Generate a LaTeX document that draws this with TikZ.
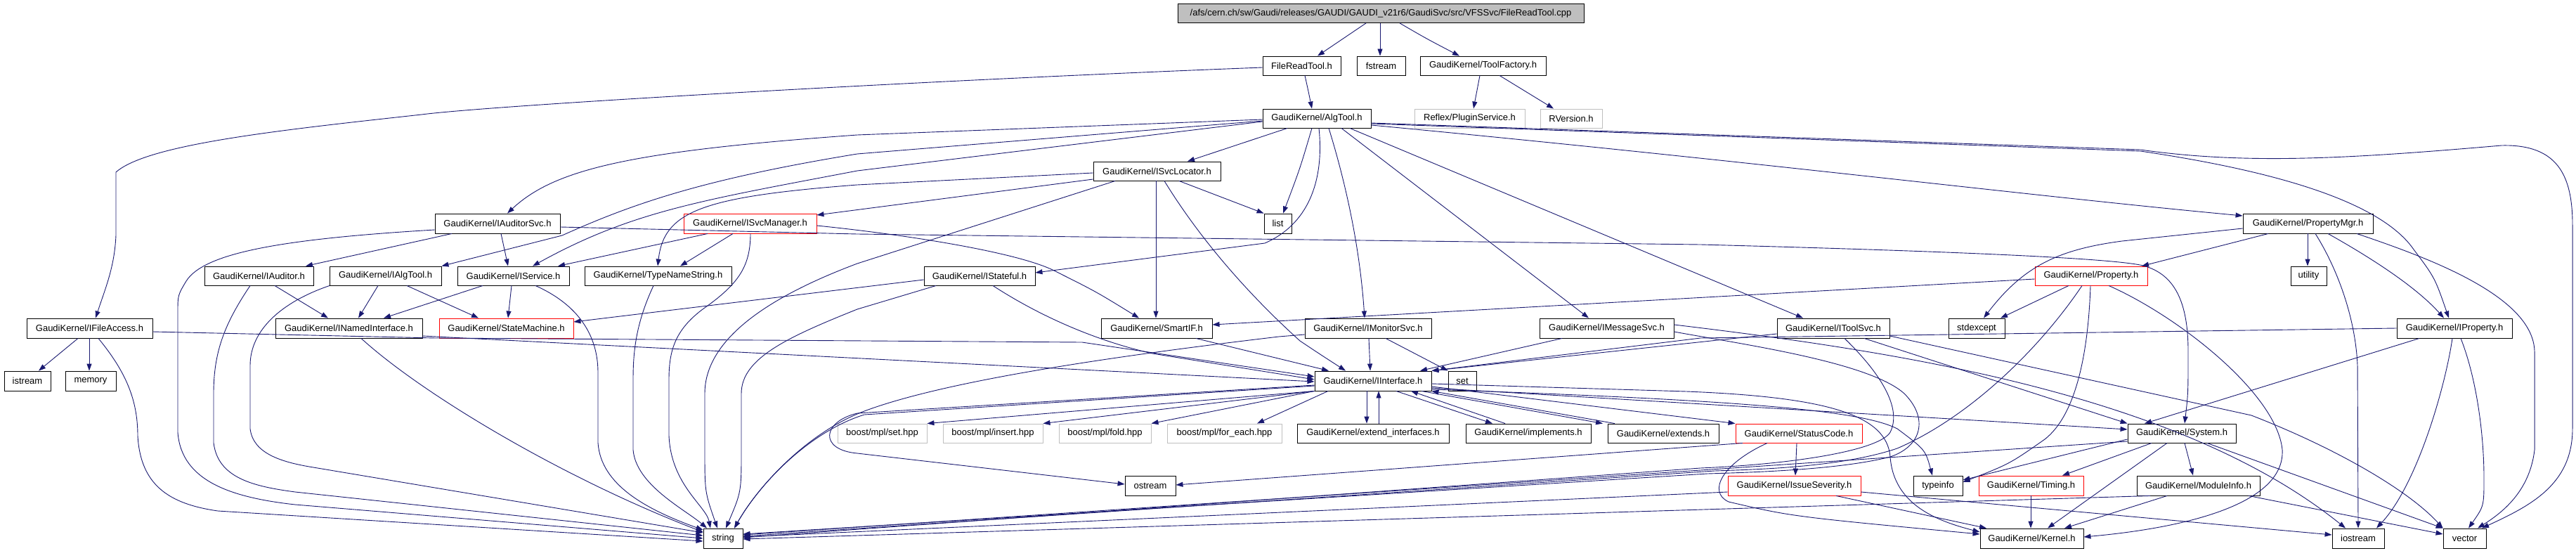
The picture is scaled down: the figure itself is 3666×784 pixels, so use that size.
\documentclass[tikz,border=0pt]{standalone}
\usepackage{fontspec}
\setmainfont{Liberation Sans}
\usetikzlibrary{arrows.meta}
\definecolor{edgec}{HTML}{191970}
\definecolor{grayfill}{HTML}{BFBFBF}
\definecolor{grayb}{HTML}{BFBFBF}
\begin{document}
\begin{tikzpicture}[x=1pt,y=-1pt,
  nd/.style={draw=black, line width=0.9pt, inner sep=0pt, minimum height=27pt, font=\fontsize{13}{15}\selectfont},
  rnd/.style={nd, draw=red},
  gnd/.style={nd, draw=grayb},
  e/.style={draw=edgec, line width=0.9pt, -{Triangle[length=10pt,width=7pt]}}]
\useasboundingbox (0,0) rectangle (3666,784);
% row 0
\node[nd, fill=grayfill, minimum width=578pt, minimum height=27pt] (root) at (1965,19) {/afs/cern.ch/sw/Gaudi/releases/GAUDI/GAUDI\_v21r6/GaudiSvc/src/VFSSvc/FileReadTool.cpp};
% row 1
\node[nd, minimum width=111pt] (frt) at (1852.5,93.5) {FileReadTool.h};
\node[nd, minimum width=69pt] (fst) at (1965.5,93.5) {fstream};
\node[nd, minimum width=179pt] (tf) at (2110.5,93.5) {GaudiKernel/ToolFactory.h};
% row 2
\node[nd, minimum width=154pt] (alg) at (1874,168.5) {GaudiKernel/AlgTool.h};
\node[gnd, minimum width=157pt] (ps) at (2091.5,168.5) {Reflex/PluginService.h};
\node[gnd, minimum width=88pt] (rv) at (2236,168.5) {RVersion.h};
% row 3
\node[nd, minimum width=181pt] (svl) at (1646.5,243.5) {GaudiKernel/ISvcLocator.h};
% row 4
\node[nd, minimum width=39pt, minimum height=28pt] (list) at (1818.5,318) {list};
\node[nd, minimum width=178pt, minimum height=28pt] (auds) at (708,318) {GaudiKernel/IAuditorSvc.h};
\node[rnd, minimum width=189pt, minimum height=28pt] (svm) at (1067.5,318) {GaudiKernel/ISvcManager.h};
\node[nd, minimum width=185pt, minimum height=28pt] (pmgr) at (3284.5,318) {GaudiKernel/PropertyMgr.h};
% row 5
\node[nd, minimum width=155pt] (iaud) at (368.5,392.5) {GaudiKernel/IAuditor.h};
\node[nd, minimum width=159pt] (ialg) at (548.5,392.5) {GaudiKernel/IAlgTool.h};
\node[nd, minimum width=159pt] (isvc) at (730.5,392.5) {GaudiKernel/IService.h};
\node[nd, minimum width=209pt] (tns) at (936.5,392.5) {GaudiKernel/TypeNameString.h};
\node[nd, minimum width=158pt] (ista) at (1394,392.5) {GaudiKernel/IStateful.h};
\node[rnd, minimum width=160pt] (prop) at (2976,392.5) {GaudiKernel/Property.h};
\node[nd, minimum width=51pt] (util) at (3285.5,392.5) {utility};
% row 6
\node[nd, minimum width=179pt, minimum height=28pt] (ifa) at (127.5,467) {GaudiKernel/IFileAccess.h};
\node[nd, minimum width=209pt, minimum height=28pt] (inam) at (496.5,467) {GaudiKernel/INamedInterface.h};
\node[rnd, minimum width=191pt, minimum height=28pt] (stm) at (720.5,467) {GaudiKernel/StateMachine.h};
\node[nd, minimum width=158pt, minimum height=28pt] (sif) at (1646,467) {GaudiKernel/SmartIF.h};
\node[nd, minimum width=180pt, minimum height=28pt] (imon) at (1947,467) {GaudiKernel/IMonitorSvc.h};
\node[nd, minimum width=191pt, minimum height=28pt] (imsg) at (2286.5,467) {GaudiKernel/IMessageSvc.h};
\node[nd, minimum width=160pt, minimum height=28pt] (itool) at (2609,467) {GaudiKernel/IToolSvc.h};
\node[nd, minimum width=80pt, minimum height=28pt] (stde) at (2813,467) {stdexcept};
\node[nd, minimum width=164pt, minimum height=28pt] (iprop) at (3493,467) {GaudiKernel/IProperty.h};
% row 7
\node[nd, minimum width=66pt, minimum height=28pt] (ist) at (39,542) {istream};
\node[nd, minimum width=72pt, minimum height=28pt] (mem) at (129,542) {memory};
\node[nd, minimum width=166pt, minimum height=28pt] (iif) at (1954,542) {GaudiKernel/IInterface.h};
\node[nd, minimum width=40pt, minimum height=28pt] (set) at (2081,542) {set};
% row 8
\node[gnd, minimum width=127pt] (bset) at (1255.5,616.5) {boost/mpl/set.hpp};
\node[gnd, minimum width=142pt] (bins) at (1413,616.5) {boost/mpl/insert.hpp};
\node[gnd, minimum width=131pt] (bfold) at (1572.5,616.5) {boost/mpl/fold.hpp};
\node[gnd, minimum width=163pt] (bfe) at (1742.5,616.5) {boost/mpl/for\_each.hpp};
\node[nd, minimum width=216pt] (eif) at (1954,616.5) {GaudiKernel/extend\_interfaces.h};
\node[nd, minimum width=178pt] (impl) at (2175,616.5) {GaudiKernel/implements.h};
\node[nd, minimum width=158pt] (ext) at (2367,616.5) {GaudiKernel/extends.h};
\node[rnd, minimum width=180pt] (stc) at (2560,616.5) {GaudiKernel/StatusCode.h};
\node[nd, minimum width=154pt] (sys) at (3105,616.5) {GaudiKernel/System.h};
% row 9
\node[nd, minimum width=72pt, minimum height=28pt] (ostr) at (1637,691) {ostream};
\node[rnd, minimum width=189pt, minimum height=28pt] (isev) at (2553.5,691) {GaudiKernel/IssueSeverity.h};
\node[nd, minimum width=70pt, minimum height=28pt] (tinf) at (2758,691) {typeinfo};
\node[rnd, minimum width=149pt, minimum height=28pt] (tim) at (2890.5,691) {GaudiKernel/Timing.h};
\node[nd, minimum width=175pt, minimum height=28pt] (modi) at (3128.5,691) {GaudiKernel/ModuleInfo.h};
% row 10
\node[nd, minimum width=56pt, minimum height=28pt] (str) at (1029,766) {string};
\node[nd, minimum width=147pt, minimum height=28pt] (kern) at (2891.5,766) {GaudiKernel/Kernel.h};
\node[nd, minimum width=74pt, minimum height=28pt] (iost) at (3356,766) {iostream};
\node[nd, minimum width=61pt, minimum height=28pt] (vec) at (3507.5,766) {vector};

% ---------------- edges ----------------
\draw[e] (root.south -| 1944,0) -- (frt.north -| 1875,0);
\draw[e] (root.south -| 1964,0) -- (fst.north -| 1964,0);
\draw[e] (root.south -| 1992,0) .. controls (2030,55) .. (tf.north -| 2077,0);
\draw[e] (frt.south -| 1857,0) .. controls (1862,130) .. (alg.north -| 1867,0);
\draw[e] (frt.west |- 0,96) .. controls (1300,115) and (700,150) .. (600,163) .. controls (400,185) and (210,205) .. (165,245) -- (165,335) .. controls (163,380) and (150,410) .. (ifa.north -| 136,0);
\draw[e] (tf.south -| 2106,0) -- (ps.north -| 2097,0);
\draw[e] (tf.south -| 2134,0) -- (rv.north -| 2211,0);
% AlgTool
\draw[e] (alg.south -| 1832,0) -- (svl.north -| 1690,0);
\draw[e] (alg.south -| 1867,0) .. controls (1850,240) .. (list.north -| 1826,0);
\draw[e] (alg.west |- 0,170) -- (1220,192) .. controls (900,215) and (790,240) .. (auds.north -| 722,0);
\draw[e] (alg.west |- 0,172) -- (1220,219) .. controls (1000,255) and (900,290) .. (800,335) -- (ialg.north east);
\draw[e] (alg.west |- 0,173) -- (1220,243) .. controls (1000,285) and (900,300) .. (isvc.north -| 758,0);
\draw[e] (alg.south -| 1877,0) .. controls (1885,260) and (1860,320) .. (1800,346) -- (ista.east |- 0,388);
\draw[e] (alg.south -| 1891,0) .. controls (1915,260) and (1935,350) .. (imon.north -| 1942,0);
\draw[e] (alg.south -| 1909,0) -- (imsg.north -| 2261,0);
\draw[e] (alg.south -| 1921,0) -- (itool.north -| 2566,0);
\draw[e] (alg.east |- 0,178) .. controls (2500,230) and (2900,280) .. (pmgr.west |- 0,307);
\draw[e] (alg.east |- 0,176) -- (3046,215) .. controls (3250,245) and (3390,290) .. (3435,355) .. controls (3465,395) .. (iprop.north -| 3485,0);
\draw[e] (alg.east |- 0,175) -- (3046,213) .. controls (3200,235) and (3350,225) .. (3560,207) .. controls (3640,205) and (3661,250) .. (3661,320) -- (3661,610) .. controls (3661,690) and (3600,720) .. (vec.north -| 3532,0);
% ISvcLocator
\draw[e] (svl.west |- 0,255) -- (svm.east |- 0,306);
\draw[e] (svl.west |- 0,246) -- (1220,263) .. controls (1000,280) and (945,300) .. (tns.north -| 936,0);
\draw[e] (svl.south -| 1678,0) -- (list.north west);
\draw[e] (svl.south -| 1645,0) -- (sif.north -| 1645,0);
\draw[e] (svl.south -| 1657,0) .. controls (1720,360) and (1800,440) .. (1850,485) .. controls (1880,505) .. (iif.north -| 1915,0);
\draw[e] (svl.south -| 1587,0) -- (1220,375) .. controls (1100,420) and (1003,480) .. (1003,560) -- (1003,640) .. controls (1003,700) .. (str.north -| 1021,0);
% IAuditorSvc
\draw[e] (auds.south -| 643,0) -- (iaud.north -| 435,0);
\draw[e] (auds.south -| 713,0) -- (isvc.north -| 723,0);
\draw[e] (auds.west |- 0,327) .. controls (400,340) and (290,360) .. (265,400) .. controls (253,420) .. (253,445) -- (253,615) .. controls (258,685) and (330,708) .. (420,718) -- (str.west |- 0,766);
\draw[e] (auds.east |- 0,323) -- (1220,333) -- (2420,348) .. controls (2800,358) and (3010,368) .. (3050,378) .. controls (3095,390) and (3114,430) .. (3114,500) .. controls (3114,560) .. (sys.north -| 3109,0);
% ISvcManager
\draw[e] (svm.south -| 1007,0) -- (isvc.north -| 794,0);
\draw[e] (svm.south -| 1043,0) -- (tns.north -| 968,0);
\draw[e] (svm.east |- 0,321) .. controls (1300,335) and (1450,360) .. (1500,385) .. controls (1560,415) .. (sif.north -| 1621,0);
\draw[e] (svm.south -| 1068,0) .. controls (1068,380) and (1050,405) .. (1000,440) .. controls (960,470) and (952,500) .. (952,540) -- (952,620) .. controls (955,690) and (1005,720) .. (str.north -| 1011,0);
% IAuditor / IAlgTool / IService
\draw[e] (iaud.south -| 391,0) -- (inam.north -| 467,0);
\draw[e] (iaud.south -| 356,0) .. controls (320,460) and (304,500) .. (304,560) -- (304,630) .. controls (310,680) and (360,692) .. (420,700) -- (str.west |- 0,762);
\draw[e] (ialg.south -| 538,0) -- (inam.north -| 510,0);
\draw[e] (ialg.south -| 579,0) -- (stm.north -| 681,0);
\draw[e] (ialg.south -| 469,0) .. controls (400,430) and (356,470) .. (356,520) -- (356,610) .. controls (360,645) and (400,657) .. (440,664) -- (str.west |- 0,758);
\draw[e] (isvc.south -| 687,0) -- (inam.north -| 546,0);
\draw[e] (isvc.south -| 728,0) -- (stm.north -| 723,0);
\draw[e] (isvc.south -| 762,0) .. controls (815,430) and (851,470) .. (851,530) -- (851,630) .. controls (855,690) and (920,725) .. (str.west |- 0,754);
\draw[e] (tns.south -| 930,0) .. controls (905,460) and (901,500) .. (901,540) -- (901,640) .. controls (905,690) and (975,725) .. (str.north -| 1006,0);
% IStateful
\draw[e] (ista.west |- 0,398) -- (stm.east |- 0,458);
\draw[e] (ista.south -| 1332,0) -- (1220,440) .. controls (1120,480) and (1055,510) .. (1055,560) -- (1055,640) .. controls (1055,700) .. (str.north -| 1033,0);
\draw[e] (ista.south -| 1413,0) .. controls (1480,450) and (1560,485) .. (1640,503) -- (iif.west |- 0,540);
% PropertyMgr
\draw[e] (pmgr.south -| 3228,0) -- (prop.north -| 3048,0);
\draw[e] (pmgr.west |- 0,325) -- (3020,343) .. controls (2930,355) and (2880,378) .. (stde.north -| 2823,0);
\draw[e] (pmgr.south -| 3284,0) -- (util.north -| 3284,0);
\draw[e] (pmgr.south -| 3295,0) .. controls (3325,380) and (3352,450) .. (3355,520) -- (iost.north -| 3356,0);
\draw[e] (pmgr.south -| 3313,0) .. controls (3380,370) and (3440,410) .. (iprop.north -| 3478,0);
\draw[e] (pmgr.south -| 3354,0) .. controls (3450,365) and (3605,420) .. (3607,500) -- (3607,640) .. controls (3600,700) and (3560,730) .. (vec.north -| 3526,0);
% Property
\draw[e] (prop.west |- 0,397) -- (sif.east |- 0,462);
\draw[e] (prop.south -| 2944,0) -- (stde.north -| 2847,0);
\draw[e] (prop.south -| 2975,0) .. controls (2972,500) and (2955,590) .. (2910,625) .. controls (2860,660) .. (tinf.east |- 0,686);
\draw[e] (prop.south -| 3001,0) .. controls (3100,450) and (3240,560) .. (3248,640) .. controls (3252,720) and (3100,752) .. (kern.east |- 0,764);
\draw[e] (prop.south -| 2963,0) .. controls (2900,500) and (2800,595) .. (2700,638) .. controls (2620,665) and (2500,668) .. (2440,670) -- (str.east |- 0,763);
% IFileAccess
\draw[e] (ifa.south -| 111,0) -- (ist.north -| 55,0);
\draw[e] (ifa.south -| 127,0) -- (mem.north -| 127,0);
\draw[e] (ifa.south -| 140,0) .. controls (180,530) and (196,570) .. (196,620) .. controls (200,690) and (240,717) .. (310,727) -- (str.west |- 0,770);
\draw[e] (ifa.east |- 0,472) -- (620,481) -- (1540,487) -- (iif.west |- 0,536);
% INamedInterface
\draw[e] (inam.east |- 0,478) -- (iif.west |- 0,543);
\draw[e] (inam.south -| 514,0) .. controls (600,560) and (800,680) .. (str.west |- 0,757);
% SmartIF, IMonitorSvc, IMessageSvc, IToolSvc, IProperty
\draw[e] (sif.south -| 1702,0) -- (iif.north -| 1891,0);
\draw[e] (imon.south -| 1948,0) -- (iif.north -| 1950,0);
\draw[e] (imon.south -| 1972,0) -- (set.north west);
\draw[e] (imon.west |- 0,476) -- (1820,479) .. controls (1600,505) and (1350,540) .. (1230,585) .. controls (1150,615) and (1080,690) .. (str.north -| 1045,0);
\draw[e] (imsg.south -| 2223,0) -- (iif.north -| 2021,0);
\draw[e] (imsg.east |- 0,462) .. controls (2700,500) and (3100,560) .. (iost.north -| 3338,0);
\draw[e] (imsg.east |- 0,472) .. controls (2480,490) and (2660,515) .. (2710,560) .. controls (2745,595) and (2735,635) .. (2690,650) .. controls (2620,668) and (2500,672) .. (2430,674) -- (str.east |- 0,760);
\draw[e] (itool.west |- 0,475) -- (iif.north east);
\draw[e] (itool.south -| 2625,0) .. controls (2685,540) and (2705,585) .. (2690,615) .. controls (2675,640) and (2560,660) .. (2420,666) -- (str.east |- 0,765);
\draw[e] (itool.east |- 0,478) -- (3204,591) .. controls (3330,640) and (3430,700) .. (vec.north west);
\draw[e] (itool.south -| 2653,0) -- (sys.north west);
\draw[e] (iprop.west |- 0,467) -- (2420,481) -- (iif.north east);
\draw[e] (iprop.south -| 3443,0) -- (sys.north -| 3052,0);
\draw[e] (iprop.south -| 3490,0) .. controls (3480,550) and (3440,690) .. (iost.north -| 3382,0);
\draw[e] (iprop.south -| 3502,0) .. controls (3525,540) and (3535,620) .. (3535,680) .. controls (3535,720) .. (vec.north -| 3513,0);
% IInterface
\draw[e] (iif.south west) -- (bset.north east);
\draw[e] (iif.south west) -- (bins.north east);
\draw[e] (iif.south west) -- (bfold.north east);
\draw[e] (iif.south -| 1890,0) -- (bfe.north -| 1789,0);
\draw[e] (iif.south -| 1945,0) -- (eif.north -| 1945,0);
\draw[e] (eif.north -| 1962,0) -- (iif.south -| 1962,0);
\draw[e] (iif.south -| 1987,0) -- (impl.north -| 2124,0);
\draw[e] (impl.north -| 2142,0) -- (iif.south -| 2008,0);
\draw[e] (iif.south -| 2023,0) -- (ext.north -| 2281,0);
\draw[e] (ext.north -| 2298,0) -- (iif.south east);
\draw[e] (iif.east |- 0,550) -- (stc.north west);
\draw[e] (iif.east |- 0,552) -- (sys.west |- 0,611);
\draw[e] (iif.east |- 0,554) .. controls (2500,570) and (2650,585) .. (2700,610) .. controls (2740,640) .. (tinf.north -| 2750,0);
\draw[e] (iif.west |- 0,548) -- (1220,588) .. controls (1170,600) and (1165,640) .. (1220,645) -- (ostr.west |- 0,689);
\draw[e] (iif.west |- 0,549) -- (1230,590) .. controls (1150,615) and (1080,690) .. (str.north -| 1045,0);
\draw[e] (iif.east |- 0,546) -- (2400,557) .. controls (2600,565) and (2685,590) .. (2690,650) .. controls (2695,720) and (2760,742) .. (kern.west |- 0,757);
% StatusCode, IssueSeverity, Timing, System, ModuleInfo
\draw[e] (stc.south -| 2557,0) -- (isev.north -| 2555,0);
\draw[e] (stc.south -| 2480,0) -- (ostr.east |- 0,690);
\draw[e] (stc.south -| 2515,0) .. controls (2450,660) and (2430,700) .. (2460,714) .. controls (2550,735) .. (kern.west |- 0,760);
\draw[e] (isev.south -| 2613,0) -- (kern.north -| 2827,0);
\draw[e] (isev.west |- 0,700) -- (str.east |- 0,764);
\draw[e] (isev.east |- 0,700) -- (iost.west |- 0,761);
\draw[e] (tim.south -| 2890,0) -- (kern.north -| 2890,0);
\draw[e] (sys.south -| 3084,0) -- (kern.north -| 2914,0);
\draw[e] (sys.south -| 3062,0) -- (tim.north -| 2935,0);
\draw[e] (sys.south -| 3109,0) -- (modi.north -| 3121,0);
\draw[e] (sys.south -| 3141,0) -- (vec.north west);
\draw[e] (sys.west |- 0,625) -- (tinf.east |- 0,683);
\draw[e] (sys.west |- 0,628) -- (str.east |- 0,761);
\draw[e] (modi.south -| 3084,0) -- (kern.north -| 2938,0);
\draw[e] (modi.south -| 3200,0) -- (vec.west |- 0,760);
\draw[e] (modi.south -| 3060,0) -- (str.east |- 0,767);
\end{tikzpicture}
\end{document}
